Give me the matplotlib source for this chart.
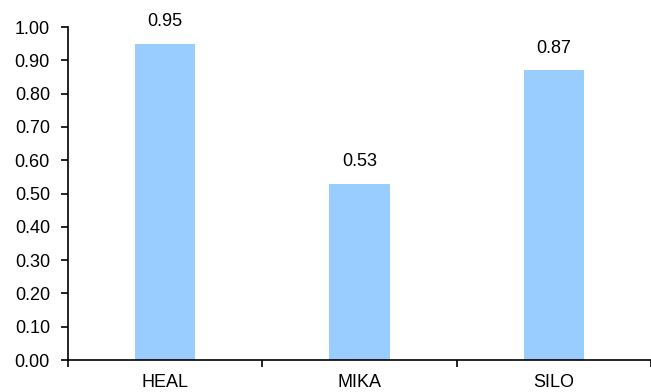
import numpy as np
import matplotlib.pyplot as plt

# values per ticker
tickers = ["HEAL", "MIKA", "SILO"]
values = [0.95, 0.53, 0.87]
yticks = np.arange(0, 1.01, 0.1)

plt.rcParams['font.family'] = ['Liberation Sans', 'DejaVu Sans']
fs = 13

fig = plt.figure(figsize=(6.51, 3.92), dpi=100)
ax = fig.add_axes([0.1045, 0.0816, 0.8955, 0.8494])

x = np.arange(len(tickers))
ax.bar(x, values, width=0.31, color="#99CCFF")
for xi, v in zip(x, values):
    ax.text(xi, v + 0.04, f"{v:.2f}", ha="center", va="bottom", fontsize=fs)

ax.set_ylim(0, 1.0)
ax.set_xlim(-0.5, 2.467)
ax.set_yticks(yticks)
ax.set_yticklabels([f"{t:.2f}" for t in yticks], fontsize=fs)

# boundary ticks, names centered under bars
ax.set_xticks(np.arange(len(tickers) + 1) - 0.5)
ax.set_xticklabels([])
ax.set_xticks(x, minor=True)
ax.set_xticklabels(tickers, minor=True, fontsize=fs)
ax.tick_params(axis="x", which="major", direction="out", length=5, width=1.2)
ax.tick_params(axis="x", which="minor", length=0, pad=10)
ax.tick_params(axis="y", direction="out", length=5, width=1.2, pad=8)

ax.spines["top"].set_visible(False)
ax.spines["right"].set_visible(False)
ax.spines["left"].set_linewidth(1.2)
ax.spines["bottom"].set_linewidth(1.2)

fig.savefig("out.png", dpi=100)
